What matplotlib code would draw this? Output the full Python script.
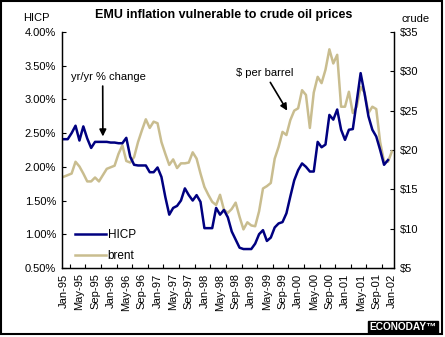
import numpy as np
import matplotlib
matplotlib.use('Agg')
import matplotlib.pyplot as plt
from matplotlib.patches import Rectangle

# monthly data, Jan-95 .. Jan-02
hicp = [2.41, 2.41, 2.50, 2.61, 2.39, 2.60, 2.42, 2.28, 2.37, 2.37, 2.37, 2.37,
        2.36, 2.36, 2.35, 2.35, 2.43, 2.15, 2.03, 2.02, 2.02, 2.02, 1.92, 1.92,
        1.99, 1.85, 1.55, 1.29, 1.39, 1.42, 1.50, 1.68, 1.58, 1.50, 1.58, 1.48,
        1.09, 1.09, 1.09, 1.39, 1.29, 1.36, 1.25, 1.04, 0.92, 0.80, 0.78, 0.78,
        0.78, 0.86, 1.00, 1.06, 0.90, 0.95, 1.10, 1.16, 1.18, 1.31, 1.56, 1.80,
        1.95, 2.05, 2.00, 1.93, 1.93, 2.37, 2.29, 2.33, 2.77, 2.70, 2.85, 2.55,
        2.40, 2.55, 2.56, 2.97, 3.39, 3.09, 2.75, 2.55, 2.45, 2.25, 2.03, 2.10]
brent = [16.6, 16.8, 17.0, 18.5, 17.9, 17.0, 16.0, 16.0, 16.5, 16.0, 16.8, 17.6,
         17.8, 18.0, 19.5, 20.6, 18.6, 18.4, 19.1, 21.0, 22.5, 23.9, 22.8, 23.6,
         23.4, 21.0, 19.5, 18.1, 18.8, 17.7, 18.3, 18.3, 18.4, 19.7, 18.9, 17.0,
         15.3, 14.3, 13.4, 13.0, 14.3, 12.4, 12.0, 12.5, 13.3, 11.5, 9.9, 10.8,
         10.4, 10.3, 12.2, 15.1, 15.4, 15.8, 18.9, 20.4, 22.3, 21.9, 23.8, 25.0,
         25.3, 27.6, 27.0, 22.8, 27.3, 29.3, 28.5, 30.2, 32.8, 31.0, 32.1, 25.5,
         25.5, 27.4, 24.7, 25.5, 28.0, 27.3, 24.7, 25.5, 25.2, 21.0, 18.5, 18.5,
         19.8]
tick_labels = ['Jan-95', 'May-95', 'Sep-95', 'Jan-96', 'May-96', 'Sep-96',
               'Jan-97', 'May-97', 'Sep-97', 'Jan-98', 'May-98', 'Sep-98',
               'Jan-99', 'May-99', 'Sep-99', 'Jan-00', 'May-00', 'Sep-00',
               'Jan-01', 'May-01', 'Sep-01', 'Jan-02']
hicp_ticks = [0.5, 1.0, 1.5, 2.0, 2.5, 3.0, 3.5, 4.0]
crude_ticks = [5, 10, 15, 20, 25, 30, 35]

navy = '#000080'
tan = '#C9BD8F'
plt.rcParams['font.family'] = ['Liberation Sans', 'DejaVu Sans']

fig = plt.figure(figsize=(4.45, 3.37), dpi=100, facecolor='white')
ax = fig.add_axes([0.139, 0.205, 0.746, 0.700])
ax2 = ax.twinx()

# HICP drawn above brent
ax.set_zorder(ax2.get_zorder() + 1)
ax.patch.set_visible(False)

x_h = np.arange(len(hicp))
x_b = np.arange(len(brent))
l2, = ax2.plot(x_b, brent, color=tan, lw=1.8, label='brent')
l1, = ax.plot(x_h, hicp, color=navy, lw=1.8, label='HICP')

ax.set_xlim(-0.5, len(brent) - 0.5)
ax.set_ylim(0.5, 4.0)
ax2.set_ylim(5, 35)

ax.set_yticks(hicp_ticks)
ax.set_yticklabels(['%.2f%%' % v for v in hicp_ticks], fontsize=8)
ax2.set_yticks(crude_ticks)
ax2.set_yticklabels(['$%d' % v for v in crude_ticks], fontsize=8)

ax.set_xticks(np.arange(0, len(brent), 4))
ax.set_xticklabels(tick_labels, rotation=90, fontsize=8)
ax.set_xticks(np.arange(1.5, len(brent) - 1, 4), minor=True)
ax.tick_params(axis='x', which='major', length=0, pad=4)
ax.tick_params(axis='x', which='minor', length=3, direction='in', width=0.8)
ax.tick_params(axis='y', length=3, direction='in', width=0.8, pad=4)
ax2.tick_params(axis='y', length=3, direction='in', width=0.8, pad=4)

for a in (ax, ax2):
    a.spines['top'].set_visible(False)
    for s in a.spines.values():
        s.set_linewidth(0.9)

ax.legend(handles=[l1, l2], loc='upper left', bbox_to_anchor=(0.022, 0.19),
          frameon=False, fontsize=8.5, handlelength=2.6, handletextpad=0.15,
          labelspacing=0.75, borderpad=0)

ax.annotate('yr/yr % change', xy=(10, 2.45), xytext=(11.3, 3.26),
            ha='center', va='bottom', fontsize=8,
            arrowprops=dict(arrowstyle='-|>', color='black', lw=1.2,
                            mutation_scale=10, shrinkA=1, shrinkB=0,
                            relpos=(0.43, 0.0)))
ax2.annotate('$ per barrel', xy=(57.2, 25.0), xytext=(51.5, 29.1),
             ha='center', va='bottom', fontsize=8,
             arrowprops=dict(arrowstyle='-|>', color='black', lw=1.2,
                             mutation_scale=10, shrinkA=1, shrinkB=0))

fig.text(0.503, 0.955, 'EMU inflation vulnerable to crude oil prices',
         ha='center', va='center', fontsize=9, fontweight='bold')
fig.text(0.081, 0.946, 'HICP', ha='center', va='center', fontsize=8)
fig.text(0.934, 0.943, 'crude', ha='center', va='center', fontsize=8)

fig.text(0.905, 0.030, 'ECONODAY\u2122', ha='center', va='center',
         fontsize=7.3, fontweight='bold', color='white',
         bbox=dict(boxstyle='square,pad=0.12', facecolor='black',
                   edgecolor='black'))

fig.patches.append(Rectangle((0.003, 0.008), 0.991, 0.988, transform=fig.transFigure,
                             fill=False, edgecolor='black', lw=1.5))

fig.savefig('out.png', dpi=100, facecolor='white')
